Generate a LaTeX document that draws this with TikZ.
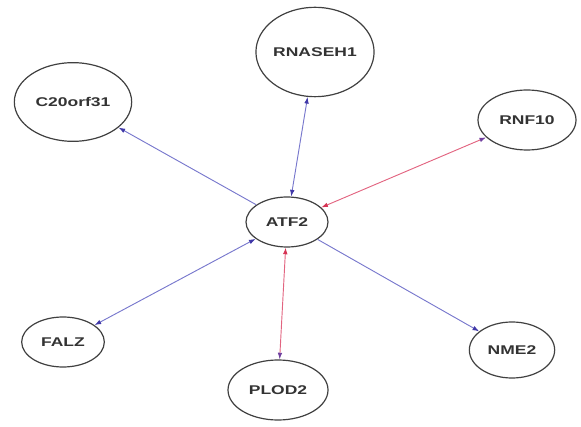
\documentclass[tikz,border=0pt]{standalone}
\usepackage{fontspec}
\usepackage{xcolor}
\newfontfamily\genefont{Liberation Sans}[FakeStretch=1.38]
\usetikzlibrary{arrows.meta}
\usetikzlibrary{shapes.geometric}
\definecolor{edgeblue}{RGB}{120,120,205}
\definecolor{edgered}{RGB}{226,100,128}
\definecolor{tipblue}{RGB}{64,56,168}
\definecolor{tippurple}{RGB}{112,64,160}
\definecolor{tipred}{RGB}{214,52,84}
\begin{document}
\begin{tikzpicture}[
		x=0.75pt, y=-0.75pt,
		gene/.style={ellipse, draw=black!75, line width=0.9pt, inner sep=0pt,
			text=black!80, font=\genefont\bfseries\fontsize{9.5}{11}\selectfont},
		blueedge/.style={draw=edgeblue, line width=0.7pt},
		rededge/.style={draw=edgered, line width=0.7pt},
		tb/.tip={Latex[length=5pt, width=3.5pt, color=tipblue]},
		tp/.tip={Latex[length=5pt, width=3.5pt, color=tippurple]},
		tr/.tip={Latex[length=5pt, width=3.5pt, color=tipred]},
	]
	\useasboundingbox (0,0) rectangle (581,427);

	\node (atf) [gene, minimum width=61.5pt, minimum height=37.5pt] at (287,222) {ATF2};
	\node (rnaseh) [gene, minimum width=87pt, minimum height=67pt] at (315,52) {RNASEH1};
	\node (c20) [gene, minimum width=88pt, minimum height=59pt] at (73,102) {C20orf31};
	\node (rnf) [gene, minimum width=73.5pt, minimum height=45pt] at (527,120) {RNF10};
	\node (nme) [gene, minimum width=64pt, minimum height=42pt] at (512,350) {NME2};
	\node (plod) [gene, minimum width=75pt, minimum height=45pt] at (278,390) {PLOD2};
	\node (falz) [gene, minimum width=62pt, minimum height=37.5pt] at (63,342) {FALZ};

	\draw[blueedge, -{tb}] (atf) -- (c20);
	\draw[blueedge, {tb}-{tb}] (atf) -- (rnaseh);
	\draw[rededge, {tr}-{tp}] (atf) -- (rnf);
	\draw[blueedge, -{tb}] (atf) -- (nme);
	\draw[rededge, {tr}-{tp}] (atf) -- (plod);
	\draw[blueedge, {tb}-{tb}] (atf) -- (falz);
\end{tikzpicture}
\end{document}
